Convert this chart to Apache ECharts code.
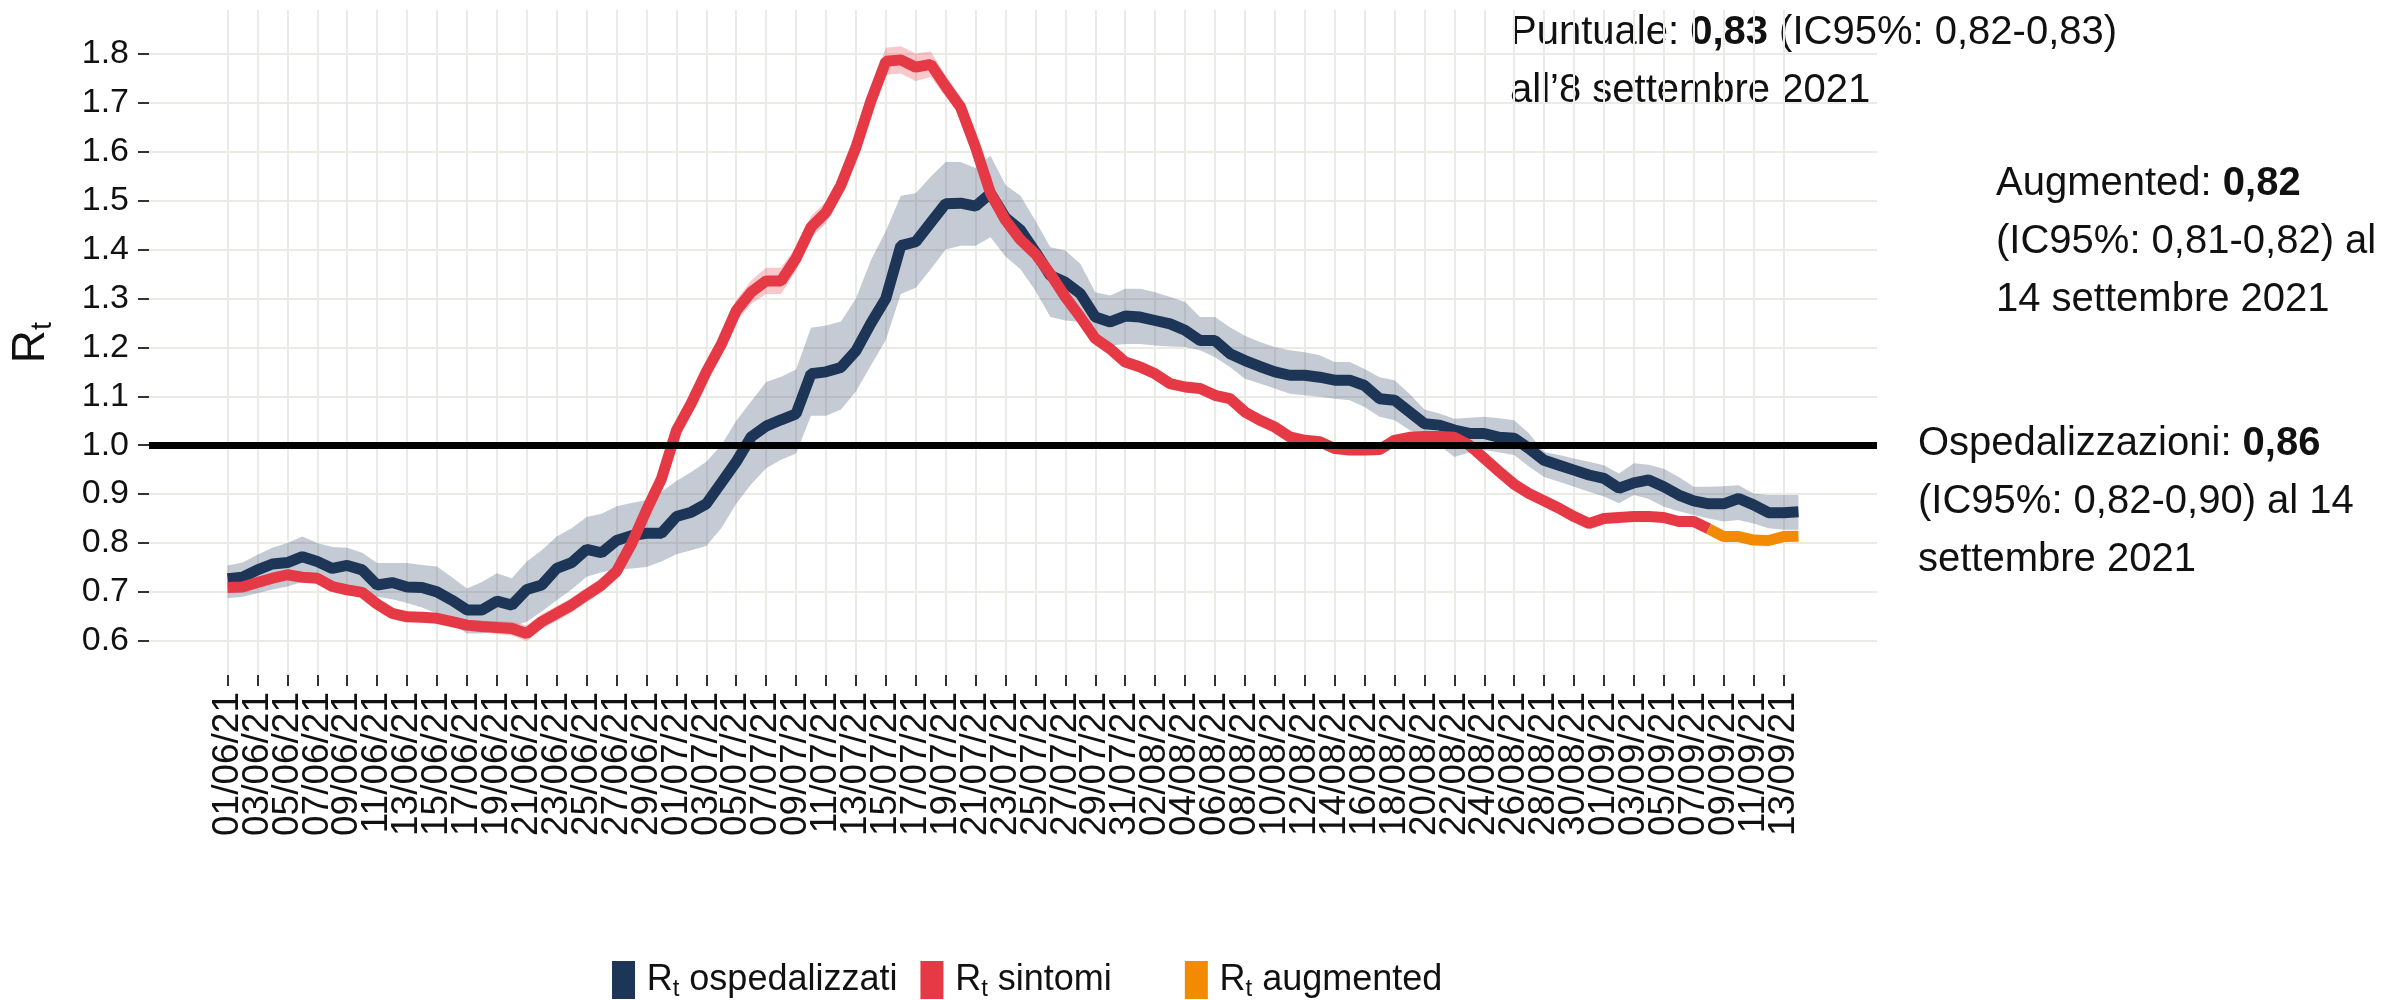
<!DOCTYPE html>
<html>
<head>
<meta charset="utf-8">
<title>Rt</title>
<script src="https://cdn.jsdelivr.net/npm/echarts@6/dist/echarts.min.js"></script>
<style>
  html, body { margin: 0; padding: 0; background: #fff; }
  #main { width: 2407px; height: 1000px; }
</style>
</head>
<body>
<div id="main"></div>
<script>
// etichette dell'asse x, una ogni 2 giorni a partire dal 01/06/21 (giorno 0)
var tickLabels = [
  '01/06/21','03/06/21','05/06/21','07/06/21','09/06/21','11/06/21','13/06/21','15/06/21',
  '17/06/21','19/06/21','21/06/21','23/06/21','25/06/21','27/06/21','29/06/21',
  '01/07/21','03/07/21','05/07/21','07/07/21','09/07/21','11/07/21','13/07/21','15/07/21',
  '17/07/21','19/07/21','21/07/21','23/07/21','25/07/21','27/07/21','29/07/21','31/07/21',
  '02/08/21','04/08/21','06/08/21','08/08/21','10/08/21','12/08/21','14/08/21','16/08/21',
  '18/08/21','20/08/21','22/08/21','24/08/21','26/08/21','28/08/21','30/08/21',
  '01/09/21','03/09/21','05/09/21','07/09/21','09/09/21','11/09/21','13/09/21'
];
var yTicks = [0.6, 0.7, 0.8, 0.9, 1.0, 1.1, 1.2, 1.3, 1.4, 1.5, 1.6, 1.7, 1.8];

// Rt ospedalizzati, 01/06 -> 14/09 (giorni 0..105)
var ospMid = [
  0.727,0.73,0.745,0.757,0.76,0.772,0.762,0.748,0.754,0.745,
  0.714,0.719,0.71,0.709,0.70,0.683,0.663,0.663,0.681,0.673,
  0.705,0.714,0.748,0.76,0.787,0.78,0.805,0.815,0.82,0.82,
  0.854,0.863,0.88,0.923,0.966,1.017,1.039,1.052,1.064,1.146,
  1.15,1.159,1.193,1.249,1.30,1.408,1.416,1.455,1.494,1.495,
  1.489,1.515,1.465,1.44,1.395,1.347,1.333,1.31,1.262,1.252,
  1.264,1.262,1.255,1.248,1.235,1.214,1.214,1.187,1.173,1.161,
  1.15,1.143,1.143,1.139,1.133,1.133,1.122,1.095,1.092,1.068,
  1.044,1.041,1.031,1.024,1.024,1.016,1.014,0.993,0.969,0.959,
  0.949,0.939,0.932,0.912,0.923,0.929,0.915,0.898,0.886,0.88,
  0.88,0.891,0.878,0.862,0.862,0.864
];
var ospLo = [
  0.687,0.69,0.697,0.705,0.711,0.72,0.72,0.712,0.71,0.70,
  0.69,0.685,0.677,0.668,0.656,0.635,0.615,0.615,0.622,0.628,
  0.639,0.66,0.683,0.705,0.731,0.74,0.745,0.748,0.751,0.762,
  0.777,0.785,0.794,0.83,0.88,0.92,0.953,0.97,0.983,1.06,
  1.06,1.073,1.11,1.163,1.215,1.309,1.322,1.36,1.40,1.408,
  1.408,1.425,1.386,1.36,1.316,1.262,1.255,1.252,1.204,1.204,
  1.207,1.207,1.204,1.202,1.201,1.194,1.18,1.16,1.136,1.126,
  1.116,1.105,1.102,1.099,1.095,1.092,1.078,1.058,1.051,1.031,
  1.017,1.0,0.976,0.985,0.99,0.985,0.98,0.956,0.935,0.925,
  0.915,0.905,0.895,0.881,0.898,0.89,0.874,0.865,0.857,0.85,
  0.844,0.847,0.84,0.83,0.827,0.827
];
var ospHi = [
  0.754,0.76,0.776,0.79,0.80,0.813,0.80,0.792,0.79,0.78,
  0.759,0.759,0.759,0.755,0.752,0.73,0.707,0.72,0.738,0.728,
  0.762,0.785,0.813,0.83,0.853,0.86,0.875,0.882,0.888,0.905,
  0.927,0.945,0.966,1.0,1.05,1.09,1.129,1.14,1.155,1.24,
  1.245,1.253,1.30,1.378,1.438,1.51,1.515,1.549,1.579,1.579,
  1.567,1.592,1.532,1.51,1.459,1.405,1.398,1.371,1.313,1.306,
  1.32,1.32,1.313,1.303,1.293,1.262,1.262,1.241,1.224,1.211,
  1.201,1.194,1.19,1.184,1.17,1.17,1.156,1.139,1.133,1.105,
  1.073,1.065,1.054,1.056,1.058,1.055,1.051,1.024,0.986,0.98,
  0.973,0.966,0.959,0.942,0.963,0.96,0.952,0.935,0.915,0.915,
  0.916,0.918,0.901,0.898,0.898,0.898
];

// Rt sintomi, 01/06 -> 08/09 (giorni 0..99)
var sintMid = [
  0.709,0.71,0.719,0.728,0.735,0.73,0.728,0.711,0.704,0.699,
  0.675,0.656,0.649,0.648,0.646,0.639,0.632,0.629,0.627,0.625,
  0.615,0.639,0.656,0.673,0.694,0.714,0.742,0.798,0.867,0.931,
  1.03,1.086,1.15,1.206,1.275,1.313,1.336,1.336,1.382,1.446,
  1.476,1.532,1.609,1.704,1.785,1.788,1.773,1.779,1.734,1.691,
  1.609,1.515,1.46,1.42,1.391,1.35,1.303,1.262,1.218,1.197,
  1.17,1.16,1.146,1.126,1.119,1.116,1.102,1.095,1.068,1.051,
  1.037,1.017,1.01,1.007,0.993,0.99,0.99,0.991,1.01,1.016,
  1.018,1.018,1.016,1.0,0.973,0.946,0.92,0.901,0.886,0.871,
  0.854,0.84,0.85,0.852,0.854,0.854,0.852,0.844,0.844,0.829
];
// banda IC95% sintomi (visibile solo fino al giorno 52)
var sintLo = [
  0.699,0.70,0.709,0.718,0.725,0.72,0.718,0.701,0.694,0.689,
  0.665,0.646,0.639,0.638,0.636,0.629,0.621,0.617,0.614,0.611,
  0.599,0.624,0.641,0.658,0.679,0.699,0.727,0.782,0.85,0.913,
  1.01,1.066,1.13,1.186,1.253,1.289,1.309,1.309,1.358,1.424,
  1.454,1.51,1.587,1.68,1.757,1.76,1.745,1.753,1.712,1.673,
  1.593,1.501,1.448
];
var sintHi = [
  0.719,0.72,0.729,0.738,0.745,0.74,0.738,0.721,0.714,0.709,
  0.685,0.666,0.659,0.658,0.656,0.649,0.643,0.641,0.640,0.639,
  0.631,0.654,0.671,0.688,0.709,0.729,0.757,0.814,0.884,0.949,
  1.05,1.106,1.17,1.226,1.297,1.337,1.363,1.363,1.406,1.468,
  1.498,1.554,1.631,1.728,1.813,1.816,1.801,1.805,1.756,1.709,
  1.625,1.529,1.472
];

// Rt augmented, 08/09 -> 14/09 (giorni 99..105)
var augStart = 99;
var augMid = [0.829, 0.813, 0.813, 0.806, 0.805, 0.813, 0.814];

var C_OSP = '#1d3557', C_SINT = '#e63946', C_AUG = '#f28b00';
var F = "'Liberation Sans', Arial, sans-serif";

function pairs(arr, start) {
  return arr.map(function (v, k) { return [start + k, v]; });
}

// banda IC come un unico poligono, disegnato con le scale degli assi
function bandRender(lo, hi, color) {
  return function (params, api) {
    if (params.dataIndex !== 0) return null;
    var pts = [], k;
    for (k = 0; k < hi.length; k++) pts.push(api.coord([k, hi[k]]));
    for (k = lo.length - 1; k >= 0; k--) pts.push(api.coord([k, lo[k]]));
    return { type: 'polygon', shape: { points: pts }, style: { fill: color } };
  };
}

// le etichette sono divise su due assi sovrapposti (una sì e una no),
// così ECharts non nasconde la prima/ultima per sovrapposizione
var tickDaysA = [], tickDaysB = [];
tickLabels.forEach(function (s, k) { (k % 2 === 0 ? tickDaysA : tickDaysB).push(2 * k); });

function makeXAxis(days) {
  return {
    type: 'value',
    min: -5.25,
    max: 110.25,
    position: 'bottom',
    offset: 0,
    axisLine: { show: false, onZero: false },
    axisTick: { show: true, length: 11, customValues: days, lineStyle: { color: '#333', width: 2 } },
    axisLabel: {
      customValues: days,
      showMinLabel: true,
      showMaxLabel: true,
      rotate: 90,
      margin: 17,
      fontSize: 37,
      fontFamily: F,
      color: '#111',
      formatter: function (v) { return tickLabels[Math.round(v / 2)]; }
    },
    splitLine: { show: true, lineStyle: { color: '#ebebe6', width: 2 } }
  };
}

var subRich = function (big, small) {
  return {
    r: { fontSize: big, fontFamily: F, color: '#111', lineHeight: big + 6 },
    t: { fontSize: small, fontFamily: F, color: '#111', lineHeight: small, verticalAlign: 'bottom' },
    sp: { fontSize: small, fontFamily: F }
  };
};

var dom = document.getElementById('main');
var myChart = echarts.init(dom);

var annoRich = { b: { fontSize: 40, fontFamily: F, fontWeight: 'bold', fill: '#111', lineHeight: 58 } };
var NB = '\u00a0';

var option = {
  animation: false,
  backgroundColor: '#fff',
  grid: { left: 143.5, right: 530, top: 10, bottom: 325 },
  xAxis: [makeXAxis(tickDaysA), makeXAxis(tickDaysB)],
  yAxis: {
    type: 'value',
    min: 0.53,
    max: 1.89,
    axisLine: { show: false, onZero: false },
    axisTick: { show: true, length: 11, customValues: yTicks, lineStyle: { color: '#333', width: 2 } },
    axisLabel: {
      customValues: yTicks,
      showMinLabel: true,
      showMaxLabel: true,
      margin: 20,
      fontSize: 34,
      fontFamily: F,
      color: '#111',
      formatter: function (v) { return v.toFixed(1); }
    },
    splitLine: { show: true, lineStyle: { color: '#ebebe6', width: 2 } },
    name: '{r|R}{t|t}',
    nameLocation: 'middle',
    nameRotate: 90,
    nameGap: 92,
    nameTextStyle: { rich: subRich(46, 29) }
  },
  legend: {
    data: ['osp', 'sint', 'aug'],
    left: 607,
    top: 956,
    icon: 'rect',
    itemWidth: 23,
    itemHeight: 38,
    itemGap: 23,
    formatter: function (name) {
      if (name === 'osp') return '{sp|' + NB + '}{r|R}{t|t} ospedalizzati';
      if (name === 'sint') return '{sp|' + NB + '}{r|R}{t|t} sintomi' + NB + NB + NB + NB + NB;
      return '{sp|' + NB + '}{r|R}{t|t} augmented';
    },
    textStyle: { fontSize: 36, fontFamily: F, color: '#111', rich: subRich(36, 24) }
  },
  graphic: [
    {
      type: 'text', left: 1510, top: 4,
      style: {
        text: 'Puntuale: {b|0,83} (IC95%: 0,82-0,83)\nall\u20198 settembre 2021',
        fontSize: 40, fontFamily: F, fill: '#111', lineHeight: 58, rich: annoRich
      }
    },
    {
      type: 'text', left: 1996, top: 155,
      style: {
        text: 'Augmented: {b|0,82}\n(IC95%: 0,81-0,82) al\n14 settembre 2021',
        fontSize: 40, fontFamily: F, fill: '#111', lineHeight: 58, rich: annoRich
      }
    },
    {
      type: 'text', left: 1918, top: 415,
      style: {
        text: 'Ospedalizzazioni: {b|0,86}\n(IC95%: 0,82-0,90) al 14\nsettembre 2021',
        fontSize: 40, fontFamily: F, fill: '#111', lineHeight: 58, rich: annoRich
      }
    }
  ],
  series: [
    {
      name: 'ospBand', type: 'custom', data: pairs(ospLo, 0), encode: { x: 0, y: 1 },
      renderItem: bandRender(ospLo, ospHi, 'rgba(29,53,87,0.26)'),
      silent: true, clip: true, z: 1
    },
    {
      name: 'sintBand', type: 'custom', data: pairs(sintLo, 0), encode: { x: 0, y: 1 },
      renderItem: bandRender(sintLo, sintHi, 'rgba(230,57,70,0.28)'),
      silent: true, clip: true, z: 1
    },
    {
      name: 'osp', type: 'line', data: pairs(ospMid, 0), color: C_OSP,
      showSymbol: false, silent: true, lineStyle: { color: C_OSP, width: 11 }, z: 2
    },
    {
      name: 'sint', type: 'line', data: pairs(sintMid, 0), color: C_SINT,
      showSymbol: false, silent: true, lineStyle: { color: C_SINT, width: 11 }, z: 3
    },
    {
      name: 'aug', type: 'line', data: pairs(augMid, augStart), color: C_AUG,
      showSymbol: false, silent: true, lineStyle: { color: C_AUG, width: 11 }, z: 3,
      markLine: {
        silent: true,
        symbol: ['none', 'none'],
        label: { show: false },
        lineStyle: { color: '#000', width: 7, type: 'solid' },
        data: [{ yAxis: 1.0 }]
      }
    }
  ]
};

myChart.setOption(option);
</script>
</body>
</html>
